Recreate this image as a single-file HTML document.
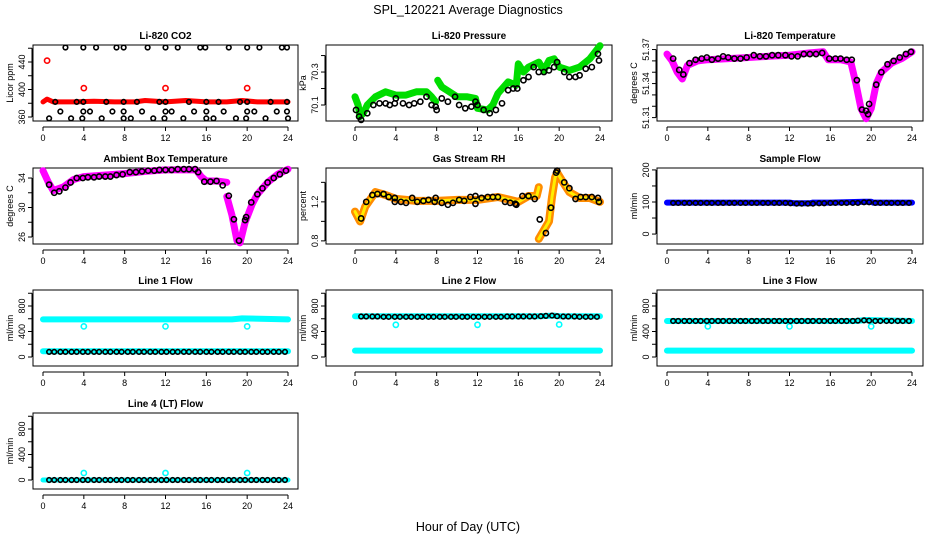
<!DOCTYPE html>
<html><head><meta charset="utf-8"><style>
html,body{margin:0;padding:0;background:#fff;}
svg{display:block;font-family:"Liberation Sans",Arial,sans-serif;}
</style></head><body>
<svg id="chart" width="936" height="540" viewBox="0 0 936 540">
<text x="468" y="14" text-anchor="middle" font-size="12.5">SPL_120221  Average Diagnostics</text>
<text x="468" y="531" text-anchor="middle" font-size="12.5">Hour of Day (UTC)</text>
</svg>
<script>
// ---------- data ----------
const xTicks = [0,4,8,12,16,20,24];
const flowHours = [0.6,1.1,1.7,2.2,2.8,3.3,3.9,4.4,5.0,5.5,6.1,6.6,7.2,7.7,8.3,8.8,9.4,9.9,10.5,11.0,11.6,12.1,12.7,13.2,13.8,14.3,14.9,15.4,16.0,16.5,17.1,17.6,18.2,18.7,19.3,19.8,20.4,20.9,21.5,22.0,22.6,23.1,23.7];

// CO2
const co2BandHours = [0,0.4,1,3,5,7,9,10,12,14,16,18,19.5,21,24];
const co2BandVals  = [382,386,382,382,383,382,382,384,382,384,382,382,384,382,382];
const co2RedOutHours = [0.4,4,12,20];
const co2RedOutVals  = [442,402,402,402];
const co2BlackHours = [2.2,3.95,5.2,7.2,7.9,10.25,12.0,13.2,15.4,15.9,18.2,20.0,21.2,23.4,23.9,
  1.2,3.3,3.95,6.2,7.9,9.2,11.4,12.0,14.3,16.0,17.2,19.3,20.0,22.3,23.9,
  1.7,3.95,4.6,6.8,7.9,9.7,12.0,12.6,14.8,16.0,17.7,20.0,20.7,22.9,23.9,
  0.6,2.75,3.85,5.75,7.9,8.6,10.8,11.9,13.75,16.0,16.7,18.9,19.9,21.8,24.0];
const co2BlackVals = [461,461,461,461,461,461,461,461,461,461,461,461,461,461,461,
  382,382,382,382,382,382,382,382,382,382,382,382,382,382,382,
  368,368,368,368,368,368,368,368,368,368,368,368,368,368,368,
  358,358,358,358,358,358,358,358,358,358,358,358,358,358,358];

// Pressure
const presBandA_H = [0,0.3,0.5,0.8,1.2,2,3,4,5,6,7,7.5,7.9];
const presBandA_V = [70.15,70.1,70.03,70.05,70.1,70.15,70.18,70.16,70.16,70.18,70.18,70.15,70.12];
const presBandB_H = [8.1,8.5,9,10,11,11.8,12,13,13.5,14,15,15.8,16,16.5,17,18,18.5,19,19.5,20,20.5,21,22,23,24];
const presBandB_V = [70.25,70.21,70.19,70.15,70.15,70.14,70.08,70.07,70.1,70.17,70.24,70.22,70.35,70.3,70.33,70.36,70.31,70.37,70.38,70.33,70.32,70.31,70.33,70.38,70.46];
const presBlackH = [0.1,0.4,0.6,1.2,1.8,2.4,3,3.4,3.9,4,4.7,5.3,5.8,6.4,7,7.5,7.9,8,8.5,9.1,9.8,10.2,10.8,11.4,11.8,12,12.6,13.2,13.8,14.4,15,15.5,15.9,16.5,17,17.5,18,18.5,19,19.5,19.8,20.5,21,21.6,22,22.6,23.2,23.8,23.9];
const presBlackV = [70.07,70.03,70.01,70.05,70.1,70.11,70.11,70.1,70.11,70.14,70.11,70.1,70.11,70.12,70.15,70.1,70.09,70.07,70.14,70.12,70.15,70.1,70.08,70.09,70.12,70.1,70.07,70.05,70.07,70.11,70.19,70.2,70.2,70.25,70.27,70.33,70.3,70.3,70.31,70.33,70.36,70.3,70.27,70.27,70.28,70.32,70.33,70.41,70.37];

// Li-820 temperature
const tempBandH = [0,0.5,1,1.5,2,3,4,6,8,10,12,14,15.3,15.8,17,18,18.5,19,19.5,20,20.5,21,22,23,24];
const tempBandV = [51.366,51.36,51.35,51.344,51.356,51.36,51.361,51.362,51.363,51.364,51.365,51.367,51.368,51.361,51.361,51.359,51.34,51.318,51.309,51.318,51.34,51.35,51.358,51.362,51.368];
const tempBlackH = [0.6,1.2,1.6,2.2,2.8,3.4,3.9,4.4,5,5.5,6,6.6,7.2,7.8,8.5,9.1,9.7,10.3,10.9,11.6,12.2,12.8,13.4,14,14.6,15.2,15.9,16.5,17,17.6,18.1,18.6,19.1,19.5,19.7,19.8,20.5,21,21.6,22.2,22.8,23.4,23.9];
const tempBlackV = [51.362,51.352,51.348,51.358,51.361,51.362,51.363,51.361,51.362,51.364,51.363,51.362,51.362,51.363,51.365,51.364,51.364,51.365,51.365,51.365,51.364,51.364,51.366,51.366,51.366,51.367,51.362,51.362,51.362,51.361,51.361,51.343,51.317,51.316,51.313,51.322,51.339,51.35,51.357,51.36,51.363,51.366,51.368];

// Ambient box temperature
const ambBandA_H = [0,0.5,1,2,3,4,6,8,10,12,15,15.5,16,17,18];
const ambBandA_V = [35,33.5,32.3,32.8,33.8,34.2,34.4,34.6,34.9,35.1,35.1,34.2,33.6,33.6,33.4];
const ambBandB_H = [18,18.5,19,19.3,19.8,20.5,21,22,23,24];
const ambBandB_V = [31.5,29,25.5,25.2,28,30.5,31.8,33.4,34.5,35.2];
const ambBlackH = [0.6,1.1,1.6,2.2,2.7,3.3,3.9,4.4,5,5.5,6.1,6.6,7.2,7.8,8.5,9.1,9.7,10.3,10.9,11.4,12,12.6,13.2,13.8,14.3,14.9,15.2,15.8,16.4,17,17.6,18.2,18.7,19.2,19.8,19.9,20.4,21,21.5,22,22.6,23.2,23.8];
const ambBlackV = [33.1,32,32.2,32.7,33.4,34,34,34.1,34.1,34.2,34.2,34.2,34.4,34.5,34.8,34.8,34.9,35,35,35.1,35.1,35.1,35.2,35.2,35.2,35.2,34.8,33.5,33.5,33.6,33,31.6,28.4,25.5,28.3,28.7,30.7,31.8,32.6,33.4,34,34.5,35];

// Gas stream RH
const rhBandA_H = [0,0.5,1,2,3,4,6,8,10,12,14,16,17,17.8,18];
const rhBandA_V = [1.1,1.0,1.15,1.3,1.27,1.23,1.21,1.21,1.22,1.22,1.25,1.2,1.26,1.26,1.35];
const rhBandB_H = [18,19,19.3,19.6,19.8,20.5,21,22,23,24];
const rhBandB_V = [0.82,1.0,1.25,1.45,1.5,1.38,1.3,1.24,1.24,1.2];
const rhBlackH = [0.6,1.1,1.7,2.2,2.8,3.3,3.9,3.9,4.5,5,5.6,6.1,6.7,7.2,7.8,7.9,8.5,9.1,9.6,10.2,10.7,11.3,11.8,11.8,12.4,13,13.5,14,14.7,15.2,15.7,15.8,16.4,17,17.6,18.1,18.7,19.2,19.7,19.8,20.5,21,21.6,22.1,22.6,23.2,23.8,23.9];
const rhBlackV = [1.03,1.2,1.27,1.28,1.28,1.25,1.24,1.2,1.2,1.19,1.24,1.2,1.21,1.22,1.2,1.24,1.19,1.17,1.19,1.22,1.21,1.25,1.26,1.18,1.24,1.25,1.25,1.25,1.2,1.19,1.18,1.17,1.26,1.26,1.23,1.02,0.88,1.14,1.5,1.52,1.4,1.34,1.23,1.25,1.25,1.25,1.24,1.2];

// Sample flow
const sampleBandH = [0,12,12.5,14,14.3,16,19.3,20,20.2,24];
const sampleBandV = [98,98,96,96,98,98,101,101,98,98];
const sampleBlackV = [97,97,97,97,97,97,97,97,97,97,97,97,97,97,97,97,97,97,97,97,97,96,95,95,95,95,96,96,97,97,97,97,97,97,99,99,97,97,97,97,97,97,97];

// Flow lines
const line1TopH = [0,18.5,19.5,24];
const line1TopV = [590,590,605,590];
const line1LowH = [0,24];
const line1LowV = [90,90];
const line1OutH = [4,12,20];
const line1OutV = [480,480,480];
const line1BlackV = [80,80,80,80,80,80,80,80,80,80,80,80,80,80,80,80,80,80,80,80,80,80,80,80,80,80,80,80,80,80,80,80,80,80,80,80,80,80,80,80,80,80,80];

const line2TopH = [0,18,19.5,20,24];
const line2TopV = [640,640,650,640,640];
const line2LowH = [0,24];
const line2LowV = [100,100];
const line2OutH = [4,12,20];
const line2OutV = [505,505,510];
const line2BlackV = [635,635,635,635,630,630,630,630,630,630,630,630,630,630,630,630,630,630,630,630,630,630,630,630,630,630,635,635,635,635,635,635,640,645,650,640,635,635,635,630,630,630,630];

const line3TopH = [0,18.5,19.5,24];
const line3TopV = [565,565,580,565];
const line3LowH = [0,24];
const line3LowV = [100,100];
const line3OutH = [4,12,20];
const line3OutV = [480,480,480];
const line3BlackV = [565,565,565,565,565,565,565,565,565,565,565,565,565,565,565,565,565,565,565,565,565,565,565,565,565,565,565,565,565,565,565,565,565,570,575,570,565,565,565,565,565,565,565];

const line4TopH = [0,24];
const line4TopV = [0,0];
const line4OutH = [4,12,20];
const line4OutV = [110,110,110];
const line4BlackV = [0,0,0,0,0,0,0,0,0,0,0,0,0,0,0,0,0,0,0,0,0,0,0,0,0,0,0,0,0,0,0,0,0,0,0,0,0,0,0,0,0,0,0];

// ---------- drawing ----------
const NS = "http://www.w3.org/2000/svg";
const svg = document.getElementById('chart');
const colX = [{box:33,right:298,x0:43},{box:326,right:612,x0:355},{box:657,right:923,x0:667}];
const rowY = [45,168,290,413];
const PH = 76, XW = 245;

function mk(tag, attrs, parent){
  const e = document.createElementNS(NS, tag);
  for (const k in attrs) e.setAttribute(k, attrs[k]);
  (parent||svg).appendChild(e);
  return e;
}

function panel(col,row,title,ylab,yTop,yBot,ticks,labels,name){
  const c = colX[col], top = rowY[row], bot = top+PH;
  const g = mk('g',{});
  
  
  const sx = h => c.x0 + h/24*XW;
  const sy = v => top + (yTop - v)/(yTop - yBot)*PH;
  const t = mk('text',{x:(c.box+c.right)/2, y:top-6, 'text-anchor':'middle','font-size':'10','font-weight':'bold'},g);
  t.textContent = title;
  
  
  const box = mk('rect',{x:c.box,y:top,width:c.right-c.box,height:PH,fill:'none',stroke:'#000','stroke-width':1},g);
  
  
  // x axis
  const xa = mk('g',{},g);
  
  
  mk('line',{x1:sx(0),x2:sx(24),y1:bot+6,y2:bot+6,stroke:'#000'},xa);
  xTicks.forEach(h=>{
    mk('line',{x1:sx(h),x2:sx(h),y1:bot+6,y2:bot+10,stroke:'#000'},xa);
    const l = mk('text',{x:sx(h),y:bot+20,'text-anchor':'middle','font-size':'9'},xa);
    l.textContent = h;
    
    
  });
  // y axis
  const ya = mk('g',{},g);
  
  
  mk('line',{x1:c.box-1,x2:c.box-1,y1:sy(ticks[0]),y2:sy(ticks[ticks.length-1]),stroke:'#000'},ya);
  ticks.forEach(v=>{
    mk('line',{x1:c.box-5,x2:c.box-1,y1:sy(v),y2:sy(v),stroke:'#000'},ya);
  });
  labels.forEach(v=>{
    const y = sy(v);
    const l = mk('text',{x:0,y:0,'text-anchor':'middle','font-size':'9',transform:`translate(${c.box-8},${y}) rotate(-90)`},ya);
    l.textContent = v;
    
    
  });
  const yl = mk('text',{x:0,y:0,'text-anchor':'middle','font-size':'9',transform:`translate(${c.box-20},${top+PH/2}) rotate(-90)`},g);
  yl.textContent = ylab;
  
  
  return {g,sx,sy};
}

function band(p,hs,vs,color,w,name){
  const pts = hs.map((h,i)=>p.sx(h).toFixed(1)+','+p.sy(vs[i]).toFixed(1)).join(' ');
  const pl = mk('polyline',{points:pts,fill:'none',stroke:color,'stroke-width':w,'stroke-linejoin':'round','stroke-linecap':'round'},p.g);
  
  
}
function dots(p,hs,vs,color,name,r){
  hs.forEach((h,i)=>{
    const c = mk('circle',{cx:p.sx(h),cy:p.sy(vs[i]),r:r||2.6,fill:'none',stroke:color,'stroke-width':1.6},p.g);
    
    
  });
}

// Panel 1 CO2
let p = panel(0,0,'Li-820 CO2','Licor ppm',464.7,354.2,[360,380,400,420,440,460],[360,400,440],'co2');
band(p,co2BandHours,co2BandVals,'#ff0000',5,'co2-red-series');
dots(p,co2RedOutHours,co2RedOutVals,'#ff0000','co2-red-point');
dots(p,co2BlackHours,co2BlackVals,'#000','co2-black-point',2.3);

// Panel 2 Pressure
p = panel(1,0,'Li-820 Pressure','kPa',70.464,70.003,[70.1,70.2,70.3,70.4],[70.1,70.3],'pressure');
band(p,presBandA_H,presBandA_V,'#00dd00',7,'pressure-green-series');
band(p,presBandB_H,presBandB_V,'#00dd00',7,'pressure-green-series');
dots(p,presBlackH,presBlackV,'#000','pressure-black-point');

// Panel 3 Li-820 Temperature
p = panel(2,0,'Li-820 Temperature','degrees C',51.374,51.307,[51.31,51.32,51.33,51.34,51.35,51.36,51.37],[51.31,51.34,51.37],'li820-temp');
band(p,tempBandH,tempBandV,'#ff00ff',7,'li820-temp-magenta-series');
dots(p,tempBlackH,tempBlackV,'#000','li820-temp-black-point');

// Panel 4 Ambient
p = panel(0,1,'Ambient Box Temperature','degrees C',35.36,25.05,[26,28,30,32,34],[26,30,34],'ambient-temp');
band(p,ambBandA_H,ambBandA_V,'#ff00ff',7,'ambient-magenta-series');
band(p,ambBandB_H,ambBandB_V,'#ff00ff',7,'ambient-magenta-series');
dots(p,ambBlackH,ambBlackV,'#000','ambient-black-point');

// Panel 5 RH
p = panel(1,1,'Gas Stream RH','percent',1.547,0.768,[0.8,1.0,1.2,1.4],[0.8,1.2],'gas-rh');
band(p,rhBandA_H,rhBandA_V,'#ff8c00',8,'rh-orange-series');
band(p,rhBandB_H,rhBandB_V,'#ff8c00',8,'rh-orange-series');
band(p,rhBandA_H,rhBandA_V,'#ffee00',3,'rh-yellow-series');
band(p,rhBandB_H,rhBandB_V,'#ffee00',3,'rh-yellow-series');
dots(p,rhBlackH,rhBlackV,'#000','rh-black-point');

// Panel 6 Sample flow
p = panel(2,1,'Sample Flow','ml/min',206,-31,[0,50,100,150,200],[0,100,200],'sample-flow');
band(p,sampleBandH,sampleBandV,'#0000ff',6,'sample-flow-blue-series');
dots(p,flowHours,sampleBlackV,'#000','sample-flow-black-point',2.3);

const flowTicks = [0,200,400,600,800,1000];
const flowLabels = [0,400,800];
// Line 1
p = panel(0,2,'Line 1 Flow','ml/min',1051,-141,flowTicks,flowLabels,'line1-flow');
band(p,line1TopH,line1TopV,'#00ffff',6,'line1-cyan-series');
band(p,line1LowH,line1LowV,'#00ffff',6,'line1-cyan-low-series');
dots(p,line1OutH,line1OutV,'#00ffff','line1-cyan-point');
dots(p,flowHours,line1BlackV,'#000','line1-black-point',2.3);
// Line 2
p = panel(1,2,'Line 2 Flow','ml/min',1051,-141,flowTicks,flowLabels,'line2-flow');
band(p,line2TopH,line2TopV,'#00ffff',6,'line2-cyan-series');
band(p,line2LowH,line2LowV,'#00ffff',6,'line2-cyan-low-series');
dots(p,line2OutH,line2OutV,'#00ffff','line2-cyan-point');
dots(p,flowHours,line2BlackV,'#000','line2-black-point',2.3);
// Line 3
p = panel(2,2,'Line 3 Flow','ml/min',1051,-141,flowTicks,flowLabels,'line3-flow');
band(p,line3TopH,line3TopV,'#00ffff',6,'line3-cyan-series');
band(p,line3LowH,line3LowV,'#00ffff',6,'line3-cyan-low-series');
dots(p,line3OutH,line3OutV,'#00ffff','line3-cyan-point');
dots(p,flowHours,line3BlackV,'#000','line3-black-point',2.3);
// Line 4
p = panel(0,3,'Line 4 (LT) Flow','ml/min',1051,-141,flowTicks,flowLabels,'line4-flow');
band(p,line4TopH,line4TopV,'#00ffff',5,'line4-cyan-series');
dots(p,line4OutH,line4OutV,'#00ffff','line4-cyan-point');
dots(p,flowHours,line4BlackV,'#000','line4-black-point',2.3);
</script>
</body></html>
